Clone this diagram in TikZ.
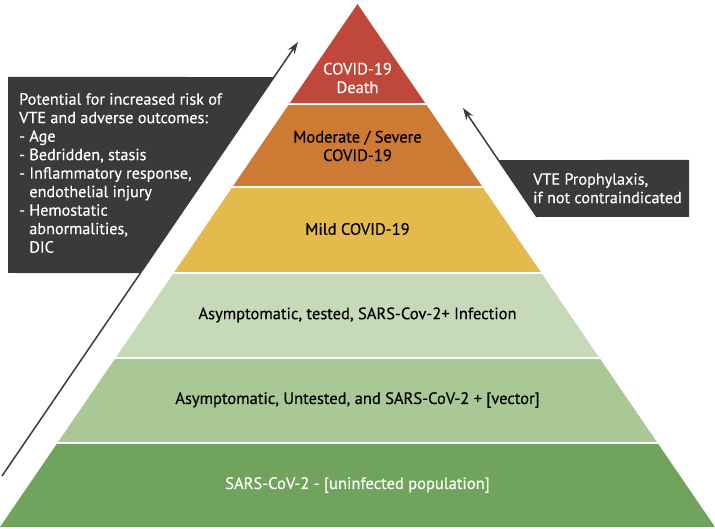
\documentclass[tikz,border=0pt]{standalone}
\usepackage{fontspec}
\setmainfont{PT Sans}[FakeBold=0.35, AutoFakeBold=0]
\usetikzlibrary{positioning,arrows.meta}

\definecolor{deathred}{RGB}{192,72,58}
\definecolor{severeorange}{RGB}{205,122,52}
\definecolor{mildyellow}{RGB}{228,186,76}
\definecolor{testedgreen}{RGB}{198,218,186}
\definecolor{vectorgreen}{RGB}{170,199,150}
\definecolor{popgreen}{RGB}{112,163,91}
\definecolor{boxgrey}{RGB}{58,58,58}

\begin{document}
\begin{tikzpicture}[x=1pt, y=-1pt,
    layertext/.style={font=\fontsize{16.5}{18.5}\selectfont, align=center, inner sep=0pt},
    boxtext/.style={font=\fontsize{16.2}{18.5}\selectfont, text=white, align=left, inner sep=0pt},
    riskarrow/.style={draw=boxgrey, line width=1.5pt, -{Stealth[length=12pt, width=8pt]}}]

    \useasboundingbox (0,0) rectangle (715,529);

    \coordinate (apex) at (357.5,4);
    \coordinate (bl) at (0,527);
    \coordinate (br) at (715,527);

    % pyramid layers
    \begin{scope}
        \clip (apex) -- (br) -- (bl) -- cycle;
        \fill[deathred]     (0,0)   rectangle (715,104);
        \fill[severeorange] (0,104) rectangle (715,187);
        \fill[mildyellow]   (0,187) rectangle (715,273);
        \fill[testedgreen]  (0,273) rectangle (715,358);
        \fill[vectorgreen]  (0,358) rectangle (715,443);
        \fill[popgreen]     (0,443) rectangle (715,529);
        \foreach \y in {104,187,273,358,443}
            \draw[white, line width=2.5pt] (0,\y) -- (715,\y);
    \end{scope}

    \node[layertext, text=white] (death) at (357.5,78) {COVID-19\\Death};
    \node[layertext] (severe) at (357.5,146) {Moderate / Severe\\COVID-19};
    \node[layertext] (mild) at (357.5,229) {Mild COVID-19};
    \node[layertext] (tested) at (357.5,315) {Asymptomatic, tested, SARS-Cov-2+ Infection};
    \node[layertext] (vector) at (357.5,400) {Asymptomatic, Untested, and SARS-CoV-2 + [vector]};
    \node[layertext, text=white] (population) at (357.5,485) {SARS-CoV-2 - [uninfected population]};

    % risk side
    \coordinate (risktail) at (2,476);
    \coordinate (risktip) at (298,42);
    \fill[boxgrey] (8,77) -- (intersection of risktail--risktip and 0,77--1,77)
        -- (intersection of risktail--risktip and 0,273--1,273) -- (8,273) -- cycle;
    \draw[riskarrow] (risktail) -- (risktip);
    \node[boxtext, anchor=north west] (risk) at (19,93) {Potential for increased risk of\\
        VTE and adverse outcomes:\\
        - Age\\
        - Bedridden, stasis\\
        - Inflammatory response,\\
        \phantom{-~}endothelial injury\\
        - Hemostatic\\
        \phantom{-~}abnormalities,\\
        \phantom{-~}DIC};

    % prophylaxis side
    \coordinate (prophtail) at (537,217);
    \coordinate (prophtip) at (463,108);
    \fill[boxgrey] (intersection of prophtail--prophtip and 0,160--1,160) -- (689,160)
        -- (689,217) -- (prophtail) -- cycle;
    \draw[riskarrow] (prophtail) -- (prophtip);
    \node[boxtext, anchor=north west] (proph) at (533,173) {VTE Prophylaxis,\\if not contraindicated};

\end{tikzpicture}
\end{document}
